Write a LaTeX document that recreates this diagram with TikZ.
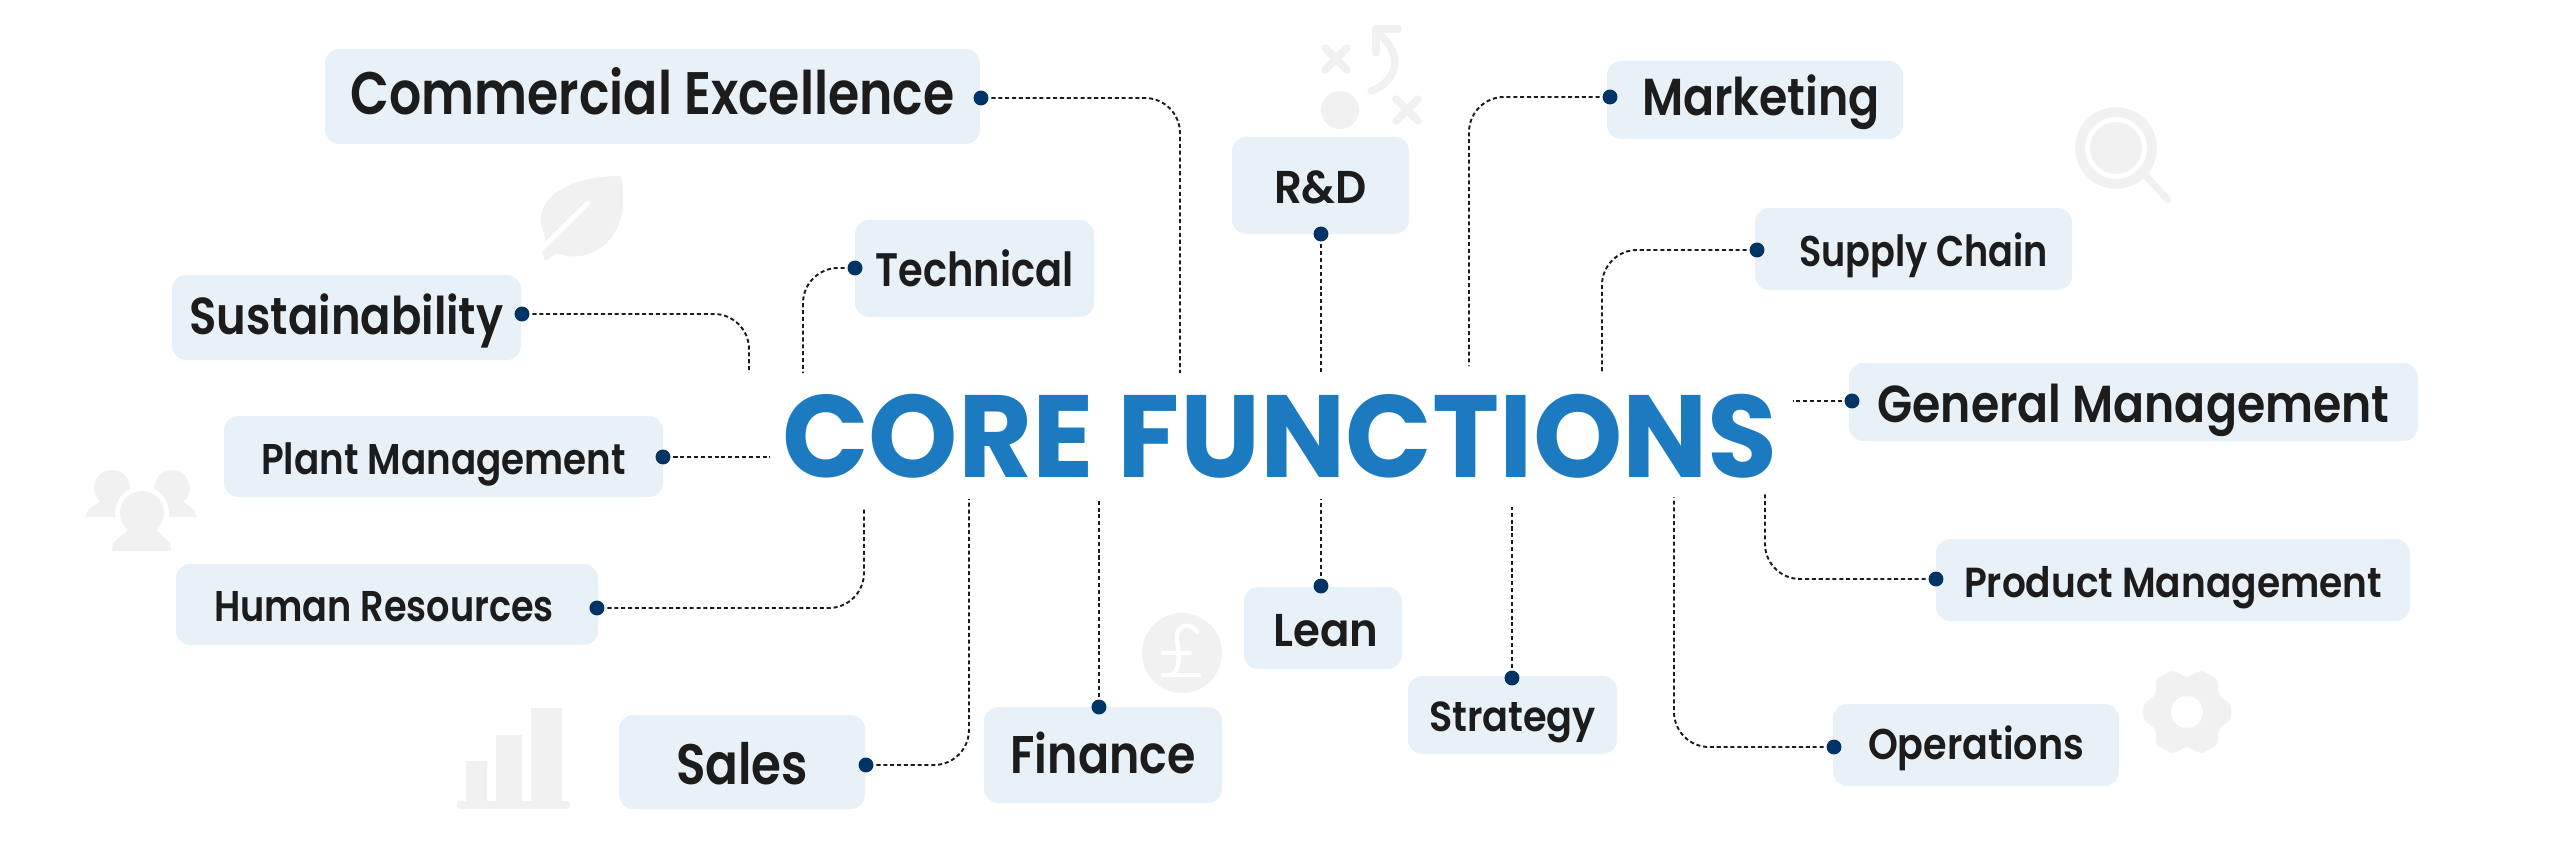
\documentclass[tikz,border=0pt]{standalone}
\usepackage{fontspec}
\usetikzlibrary{positioning}
\setmainfont{Poppins}[BoldFont={Poppins SemiBold}]
\newfontfamily\titlefont{Poppins}[UprightFont={* Bold}]
\definecolor{boxblue}{HTML}{E9F1F8}
\definecolor{dotblue}{HTML}{003366}
\definecolor{titleblue}{HTML}{1C7BC0}
\definecolor{inkgrey}{HTML}{1C1C1C}
\definecolor{icongrey}{HTML}{F1F1F1}
\newcommand{\fpx}[1]{\pgfmathsetmacro{\fpxv}{#1*0.569}\fontsize{\fpxv}{\fpxv}\selectfont}
% size, width and text of a label, all in pixels of the picture; the optional value moves it down
\newcommand{\fitlab}[4][2]{\fpx{#2}\pgfmathsetmacro{\caph}{#2*0.569*0.7}\pgfmathsetmacro{\fitw}{#3*0.569}\pgfmathsetmacro{\liftv}{-(#1)*0.569}\raisebox{\liftv pt}[\caph pt][0pt]{\resizebox{\fitw pt}{\height}{#4}}}
\tikzset{
  funcbox/.style 2 args={fill=boxblue, rounded corners=8pt, text=inkgrey, inner sep=0pt, font=\bfseries, minimum width=#1*0.02cm, minimum height=#2*0.02cm},
  linkdot/.style={circle, fill=dotblue, minimum size=8.5pt, inner sep=0pt, outer sep=1.7pt},
  linkline/.style={draw=inkgrey, line width=1.1pt, dash pattern=on 2.3pt off 1.6pt, rounded corners=20pt},
  iconfill/.style={fill=icongrey, draw=none},
  iconline/.style={draw=icongrey, line cap=round, line join=round}
}
\begin{document}
\begin{tikzpicture}[x=0.02cm, y=-0.02cm]
  \useasboundingbox (0, 0) rectangle (2560, 868);
  % icons
  \fill [iconfill, rounded corners=1.5pt] (622, 176) .. controls (575, 176) and (535, 195) .. (542, 228) -- (546, 241) -- (540, 250) -- (546, 259) -- (557, 253) .. controls (590, 265) and (625, 240) .. (623, 195) -- cycle;
  \draw [iconline, white, line width=2.8pt] (588, 203) -- (538, 252);
  \draw [iconline, line width=3pt] (546, 258) -- (562, 243);
  \fill [iconfill] (1340, 110) circle [radius=19];
  \draw [iconline, line width=4.3pt] (1325, 48) -- (1347, 70) (1325, 70) -- (1347, 48);
  \draw [iconline, line width=4.3pt] (1396, 99) -- (1418, 121) (1396, 121) -- (1418, 99);
  \draw [iconline, line width=4.3pt] (1371, 91) .. controls (1390, 85) and (1410, 60) .. (1378, 33);
  \draw [iconline, line width=4.3pt] (1398, 29) -- (1376, 29) -- (1376, 53);
  \draw [iconline, line width=5.7pt] (2116, 148) circle [radius=36];
  \fill [iconfill] (2116, 148) circle [radius=26];
  \draw [iconline, line width=4pt] (2146, 176) -- (2168, 200);
  \fill [iconfill] (112, 488) circle [radius=18] (172, 488) circle [radius=18];
  \fill [iconfill] (102, 500) -- (88, 510) -- (85, 517) -- (197, 517) -- (194, 510) -- (182, 500) -- cycle;
  \fill [iconfill, draw=white, line width=4.5pt] (142, 513) circle [radius=23];
  \fill [iconfill, draw=white, line width=4.5pt] (130, 530) -- (112, 551) -- (171, 551) -- (154, 530) -- cycle;
  \fill [iconfill] (142, 513) circle [radius=22];
  \fill [iconfill] (130, 528) -- (113, 543) -- (112, 551) -- (171, 551) -- (170, 543) -- (154, 528) -- cycle;
  \fill [iconfill] (466, 761) rectangle (487, 801) (496, 735) rectangle (522, 801) (531, 708) rectangle (562, 801);
  \fill [iconfill, rounded corners=1.7pt] (457, 801) rectangle (570, 809);
  \fill [iconfill] (1182, 653) circle [radius=40];
  \draw [iconline, white, line width=2.5pt] (1163, 653) -- (1190, 653) (1163, 675) -- (1199, 675);
  \draw [iconline, white, line width=2.5pt] (1197, 632) .. controls (1192, 623) and (1176, 622) .. (1177, 640) .. controls (1178, 650) and (1182, 668) .. (1172, 675);
  \fill [iconfill, rounded corners=2.3pt, even odd rule] (2173, 670) -- (2187, 678) -- (2201, 670) -- (2218, 679) -- (2218, 695) -- (2231, 704) -- (2231, 720) -- (2218, 729) -- (2218, 745) -- (2201, 754) -- (2187, 746) -- (2173, 754) -- (2156, 745) -- (2156, 729) -- (2143, 720) -- (2143, 704) -- (2156, 695) -- (2156, 679) -- cycle (2187, 712) circle [radius=16];
  % title
  \node [text=titleblue, inner sep=0pt] (CF) at (1280, 436) {\titlefont\fitlab[1]{117}{996}{CORE FUNCTIONS}};
  % boxes
  \node [funcbox={655}{95}] (CE) at (652.5, 96.5) {\fitlab[-3]{60}{604}{Commercial Excellence}};
  \node [funcbox={239}{97}] (TE) at (974.5, 268.5) {\fitlab{47}{198}{Technical}};
  \node [funcbox={349}{85}] (SU) at (346.5, 317.5) {\fitlab[-1]{52}{314}{Sustainability}};
  \node [funcbox={439}{81}] (PL) at (443.5, 456.5) {\fitlab[3]{43}{365}{Plant Management}};
  \node [funcbox={422}{81}] (HR) at (387, 604.5) {\fitlab{43}{340}{Human Resources}\hspace*{3.4pt}};
  \node [funcbox={246}{94}] (SA) at (742, 762) {\fitlab[3]{57}{132}{Sales}};
  \node [funcbox={238}{96}] (FI) at (1103, 755) {\fitlab[0]{53}{185}{Finance}};
  \node [funcbox={177}{97}] (RD) at (1320.5, 185.5) {\fitlab{46}{93}{R\&D}};
  \node [funcbox={158}{82}] (LE) at (1323, 628) {\hspace*{3.4pt}\fitlab{46}{105}{Lean}};
  \node [funcbox={209}{78}] (ST) at (1512.5, 715) {\fitlab{42}{167}{Strategy}};
  \node [funcbox={286}{82}] (OP) at (1976, 745) {\fitlab[-1]{43}{216}{Operations}};
  \node [funcbox={474}{82}] (PM) at (2173, 580) {\fitlab[3]{42}{418}{Product Management}};
  \node [funcbox={569}{78}] (GM) at (2133.5, 402) {\fitlab{52}{512}{General Management}};
  \node [funcbox={317}{82}] (SC) at (1913.5, 249) {\hspace*{11.4pt}\fitlab{43}{249}{Supply Chain}};
  \node [funcbox={296}{78}] (MA) at (1755, 100) {\hspace*{6.8pt}\fitlab[-3]{52}{238}{Marketing}};
  % dots
  \node [linkdot] (CEd) at (981, 98) {};
  \node [linkdot] (TEd) at (855, 268) {};
  \node [linkdot] (SUd) at (522, 314) {};
  \node [linkdot] (PLd) at (663, 457) {};
  \node [linkdot] (HRd) at (597, 608) {};
  \node [linkdot] (SAd) at (866, 765) {};
  \node [linkdot] (FId) at (1099, 707) {};
  \node [linkdot] (RDd) at (1321, 234) {};
  \node [linkdot] (LEd) at (1321, 586) {};
  \node [linkdot] (STd) at (1512, 678) {};
  \node [linkdot] (OPd) at (1834, 747) {};
  \node [linkdot] (PMd) at (1936, 579) {};
  \node [linkdot] (GMd) at (1852, 401) {};
  \node [linkdot] (SCd) at (1757, 250) {};
  \node [linkdot] (MAd) at (1610, 97) {};
  % free ends near the title
  \coordinate (CEe) at (1180, 373);
  \coordinate (TEe) at (803, 373);
  \coordinate (SUe) at (749, 373);
  \coordinate (PLe) at (770, 457);
  \coordinate (HRe) at (864, 507);
  \coordinate (SAe) at (969, 499);
  \coordinate (FIe) at (1099, 499);
  \coordinate (RDe) at (1321, 373);
  \coordinate (LEe) at (1321, 499);
  \coordinate (STe) at (1512, 507);
  \coordinate (OPe) at (1674, 497);
  \coordinate (PMe) at (1765, 494);
  \coordinate (GMe) at (1793, 401);
  \coordinate (SCe) at (1602, 373);
  \coordinate (MAe) at (1469, 366);
  % connectors
  \draw [linkline] (CEd) -| (CEe);
  \draw [linkline] (TEd) -| (TEe);
  \draw [linkline] (SUd) -| (SUe);
  \draw [linkline] (PLd) -- (PLe);
  \draw [linkline] (HRd) -| (HRe);
  \draw [linkline] (SAd) -| (SAe);
  \draw [linkline] (FId) -- (FIe);
  \draw [linkline] (RDd) -- (RDe);
  \draw [linkline] (LEd) -- (LEe);
  \draw [linkline] (STd) -- (STe);
  \draw [linkline] (OPd) -| (OPe);
  \draw [linkline] (PMd) -| (PMe);
  \draw [linkline] (GMd) -- (GMe);
  \draw [linkline] (SCd) -| (SCe);
  \draw [linkline] (MAd) -| (MAe);
\end{tikzpicture}
\end{document}
